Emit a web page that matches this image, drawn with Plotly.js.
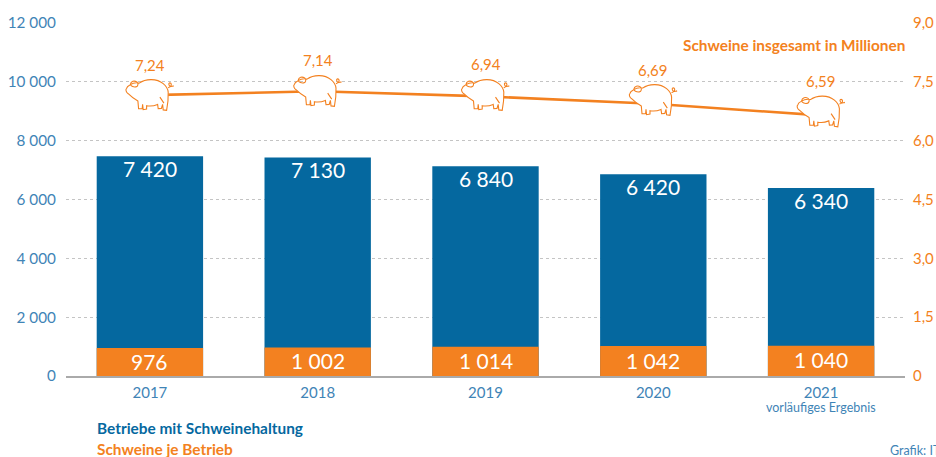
<!DOCTYPE html>
<html><head><meta charset="utf-8">
<script src="https://cdn.plot.ly/plotly-3.0.0.min.js"></script>
<style>html,body{margin:0;padding:0;background:#fff;overflow:hidden}</style>
</head><body><div id="chart" style="width:936px;height:457px"></div>
<script>
const FONT = 'Lato, "Open Sans", sans-serif';
const BLUE = '#05689f', ORANGE = '#f38120', AXIS_BLUE = '#3f84b6';
const categories = ['2017','2018','2019','2020','2021'];
const farmBarHeights = [7470,7430,7130,6860,6390];
const farmLabels = ['7 420','7 130','6 840','6 420','6 340'];
const pigBarHeights = [950,972,995,1018,1029];
const pigsPerFarmLabels = ['976','1 002','1 014','1 042','1 040'];
const totalLine = [7.16,7.26,7.13,6.94,6.645];
const pigIconLevel = [7.154,7.256,7.154,7.027,6.734];
const totalLabels = ['7,24','7,14','6,94','6,69','6,59'];
const totalLabelOffset = [30,31,32,34,34];
const leftTicks = [0,2000,4000,6000,8000,10000,12000];
const leftTickText = ['0','2 000','4 000','6 000','8 000','10 000','12 000'];
const rightTicks = [0,1.5,3,4.5,6,7.5,9];
const rightTickText = ['0','1,5','3,0','4,5','6,0','7,5','9,0'];
const pigPath = 'M-10.7,12.3 C-4,17 7,17 13.3,11.7 C16,9.5 18,6 18.3,3.3 C18.5,-3 18,-9 16.7,-15 L13.3,-14.5 L12.7,-9 L11.5,-13 L8.3,-13.3 L7.7,-9 C3,-11 0,-11 -3.3,-10.3 L-3.3,-13.7 L-6.7,-14.3 L-7.3,-9 L-7.7,-13.3 L-11.3,-13.3 L-12,-5.7 C-15,-4 -19,-1 -21.7,1.7 C-24,3 -24.5,6 -23.3,7 C-23,9 -21,10 -20,10.5 C-16,13 -13,13 -10.7,12.3 Z M-19.5,11 C-19,14.5 -15.5,15 -13,13.5 C-11,12 -12,9 -14,8.5 C-16,8 -19,9 -19.5,11 Z M10,-1.7 L14,-7.7 M18.3,7.7 C20,9 22,9 23.8,9.5 M20.5,8.7 C18.5,10 18.5,12.5 20,12.5 C21.5,12.5 22,10.5 20.5,8.7';

const data = [
 {type:'bar',x:categories,y:farmBarHeights,marker:{color:BLUE},hoverinfo:'skip',name:'Betriebe mit Schweinehaltung'},
 {type:'bar',x:categories,y:pigBarHeights,marker:{color:ORANGE},hoverinfo:'skip',name:'Schweine je Betrieb'},
 {type:'scatter',mode:'lines',x:categories,y:totalLine,yaxis:'y2',line:{color:ORANGE,width:2.6},hoverinfo:'skip',name:'Schweine insgesamt in Millionen'}
];
const note = (text,x,y,color,size,anchor,weight) => ({text:text,xref:'paper',yref:'paper',x:x,y:y,xanchor:anchor,yanchor:'middle',showarrow:false,align:anchor,borderpad:0,borderwidth:0,font:{family:FONT,size:size,color:color,weight:weight||400}});
const P = (px)=>(px-66)/839, Q=(py)=>(376-py)/353.5;
const annotations = [
 note('Schweine insgesamt in Millionen',P(905),Q(44.5),ORANGE,15.4,'right',700),
 note('Betriebe mit Schweinehaltung',P(97),Q(428.5),BLUE,15.4,'left',700),
 note('Schweine je Betrieb',P(97),Q(449.5),ORANGE,15.4,'left',700),
 note('Grafik: IT',P(890),Q(450.5),AXIS_BLUE,12.5,'left',400),
 {text:'vorläufiges Ergebnis',xref:'x',yref:'paper',x:4,y:Q(408),xanchor:'center',yanchor:'middle',showarrow:false,borderpad:0,font:{family:FONT,size:12.5,color:AXIS_BLUE}}
].concat(categories.map((c,i)=>({text:totalLabels[i],xref:'x',yref:'y2',x:i,y:totalLine[i],yshift:totalLabelOffset[i],showarrow:false,bgcolor:'#fff',borderpad:1,font:{family:FONT,size:15,color:ORANGE}})))
 .concat(categories.map((c,i)=>({text:farmLabels[i],xref:'x',yref:'y',x:i,y:farmBarHeights[i],yshift:-12.5,showarrow:false,borderpad:0,font:{family:FONT,size:21,color:'#fff'}})))
 .concat(categories.map((c,i)=>({text:pigsPerFarmLabels[i],xref:'x',yref:'y',x:i,y:pigBarHeights[i]/2,yshift:1,showarrow:false,borderpad:0,font:{family:FONT,size:21,color:'#fff'}})));
const shapes = categories.map((c,i)=>({type:'path',layer:'above',xref:'x',yref:'y2',xsizemode:'pixel',ysizemode:'pixel',xanchor:i,yanchor:pigIconLevel[i],path:pigPath,fillcolor:'#fff',line:{color:ORANGE,width:1.1}}));
const layout = {
 width:936,height:457,margin:{l:66,r:31,t:22.5,b:81,pad:0},paper_bgcolor:'#fff',plot_bgcolor:'#fff',
 barmode:'overlay',bargap:0.366,showlegend:false,font:{family:FONT},
 xaxis:{type:'category',categoryorder:'array',categoryarray:categories,tickmode:'array',tickvals:categories,ticktext:categories,range:[-0.5,4.5],showgrid:false,showline:true,linecolor:'#aaa',linewidth:1.5,ticks:'outside',ticklen:2,tickcolor:'rgba(0,0,0,0)',tickfont:{family:FONT,size:15,color:AXIS_BLUE},automargin:false,fixedrange:true},
 yaxis:{range:[0,12000],tickmode:'array',tickvals:leftTicks,ticktext:leftTickText,showgrid:true,gridcolor:'#c4c4c4',griddash:'3px,3px',gridwidth:1,zeroline:false,ticks:'outside',ticklen:6,tickcolor:'rgba(0,0,0,0)',tickfont:{family:FONT,size:15.3,color:AXIS_BLUE},automargin:false,fixedrange:true},
 yaxis2:{overlaying:'y',side:'right',range:[0,9],tickmode:'array',tickvals:rightTicks,ticktext:rightTickText,showgrid:false,zeroline:false,ticks:'outside',ticklen:4,tickcolor:'rgba(0,0,0,0)',tickfont:{family:FONT,size:15,color:ORANGE},automargin:false,fixedrange:true},
 annotations:annotations,shapes:shapes
};
Plotly.newPlot('chart',data,layout,{displayModeBar:false,staticPlot:true});
</script></body></html>
